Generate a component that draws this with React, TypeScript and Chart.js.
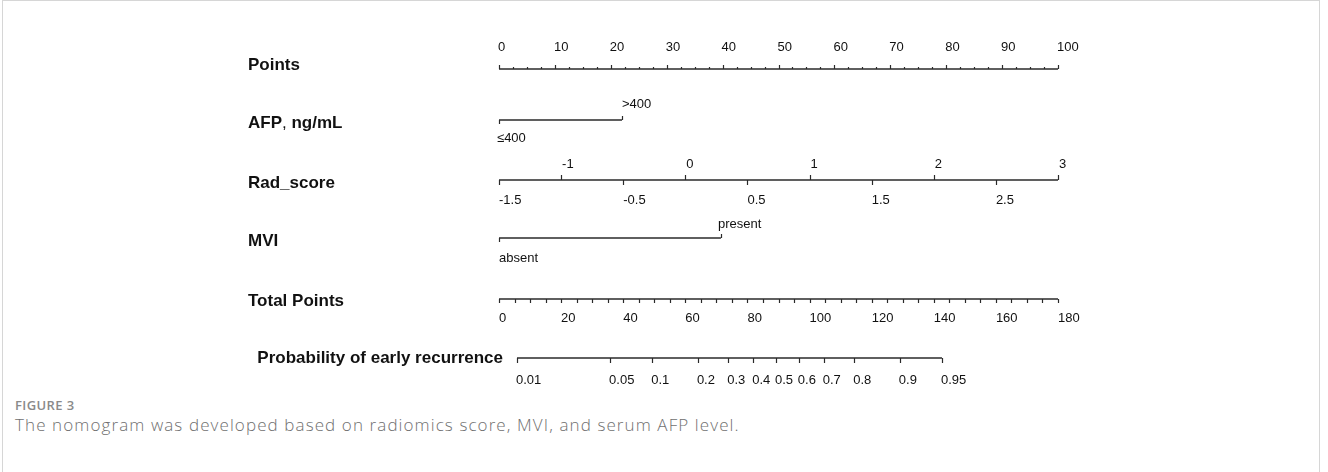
import React, { useEffect, useRef } from 'react';
import { Chart, registerables } from 'chart.js';

Chart.register(...registerables);

// ---------- data ----------
const rowLabels = ['Points', 'AFP, ng/mL', 'Rad_score', 'MVI', 'Total Points', 'Probability of early recurrence'];
const pointsMajorTicks = [0, 10, 20, 30, 40, 50, 60, 70, 80, 90, 100];
const pointsMinorStep = 2.5;
const afpLevels = ['≤400', '>400'];
const afpPoints = [0, 22];
const radRange = [-1.5, 3];
const radTicksAbove = [-1, 0, 1, 2, 3];
const radTicksBelow = [-1.5, -0.5, 0.5, 1.5, 2.5];
const mviLevels = ['absent', 'present'];
const mviPoints = [0, 39.7];
const totalRange = [0, 180];
const totalMajorTicks = [0, 20, 40, 60, 80, 100, 120, 140, 160, 180];
const totalMinorStep = 5;
const probTicks = [0.01, 0.05, 0.1, 0.2, 0.3, 0.4, 0.5, 0.6, 0.7, 0.8, 0.9, 0.95];
const probTickLabels = ['0.01', '0.05', '0.1', '0.2', '0.3', '0.4', '0.5', '0.6', '0.7', '0.8', '0.9', '0.95'];
const lpIntercept = -4.915;
const lpSlope = 0.0551;

// ---------- layout / style ----------
const ROW_POS = [0, 0.882, 1.92, 2.924, 3.979, 5];
const LABEL_X = 248;
const PROB_LABEL_RIGHT = 503;
const AXIS_COLOR = '#2a2a2a';
const TEXT_COLOR = '#111111';
const TICK_FONT = '13px "Liberation Sans", Arial, sans-serif';
const LABEL_FONT = 'bold 17px "Liberation Sans", Arial, sans-serif';
const LABEL_FONT_PLAIN = '17px "Liberation Sans", Arial, sans-serif';

const probToTotal = (p: number) => (Math.log(p / (1 - p)) - lpIntercept) / lpSlope;

const nomogramPlugin = {
  id: 'nomogram',
  afterDatasetsDraw(chart: any) {
    const ctx: CanvasRenderingContext2D = chart.ctx;
    const xP = chart.scales.x;
    const xR = chart.scales.xRad;
    const xT = chart.scales.xTotal;
    const y = chart.scales.y;
    const rowY = (i: number) => y.getPixelForValue(ROW_POS[i]);
    ctx.save();
    ctx.strokeStyle = AXIS_COLOR;
    ctx.lineWidth = 1.2;
    ctx.fillStyle = TEXT_COLOR;
    const tick = (px: number, py: number, len: number) => {
      const sx = Math.round(px) + 0.5;
      ctx.beginPath();
      ctx.moveTo(sx, py);
      ctx.lineTo(sx, py + len);
      ctx.stroke();
    };
    const text = (s: string, px: number, py: number) => {
      ctx.font = TICK_FONT;
      ctx.textAlign = 'left';
      ctx.textBaseline = 'middle';
      ctx.fillText(s, px, py);
    };

    // Points axis
    let r = rowY(0);
    for (let v = 0; v <= 100 + 1e-9; v += pointsMinorStep) {
      const major = pointsMajorTicks.includes(v);
      tick(xP.getPixelForValue(v), r, major ? -4 : -2);
    }
    pointsMajorTicks.forEach((v) => text(String(v), xP.getPixelForValue(v) - 1, r - 22));

    // AFP
    r = rowY(1);
    tick(xP.getPixelForValue(afpPoints[0]), r, 4);
    tick(xP.getPixelForValue(afpPoints[1]), r, -4);
    text(afpLevels[0], xP.getPixelForValue(afpPoints[0]) - 2, r + 18);
    text(afpLevels[1], xP.getPixelForValue(afpPoints[1]), r - 16);

    // Rad_score
    r = rowY(2);
    radTicksAbove.forEach((v) => {
      tick(xR.getPixelForValue(v), r, -5);
      text(String(v), xR.getPixelForValue(v) + 1, r - 16);
    });
    radTicksBelow.forEach((v) => {
      tick(xR.getPixelForValue(v), r, 5);
      text(String(v), xR.getPixelForValue(v), r + 20);
    });

    // MVI
    r = rowY(3);
    tick(xP.getPixelForValue(mviPoints[0]), r, 4);
    tick(xP.getPixelForValue(mviPoints[1]), r, -4);
    text(mviLevels[0], xP.getPixelForValue(mviPoints[0]), r + 20);
    text(mviLevels[1], xP.getPixelForValue(mviPoints[1]) - 3, r - 14);

    // Total points
    r = rowY(4);
    for (let v = totalRange[0]; v <= totalRange[1] + 1e-9; v += totalMinorStep) {
      tick(xT.getPixelForValue(v), r, 4);
    }
    totalMajorTicks.forEach((v) => text(String(v), xT.getPixelForValue(v), r + 19));

    // Probability
    r = rowY(5);
    probTicks.forEach((p, i) => {
      const px = xT.getPixelForValue(probToTotal(p));
      tick(px, r, 5);
      text(probTickLabels[i], px - 1, r + 22);
    });

    // Row labels
    ctx.font = LABEL_FONT;
    ctx.textBaseline = 'middle';
    const labelOffsets = [-4, 3, 3, 3, 2, 0];
    rowLabels.forEach((lab, i) => {
      const py = rowY(i) + labelOffsets[i];
      if (i === rowLabels.length - 1) {
        ctx.textAlign = 'right';
        ctx.fillText(lab, PROB_LABEL_RIGHT, py);
      } else if (lab.includes(',')) {
        const [a, b] = lab.split(',');
        ctx.textAlign = 'left';
        ctx.font = LABEL_FONT;
        ctx.fillText(a, LABEL_X, py);
        let x = LABEL_X + ctx.measureText(a).width;
        ctx.font = LABEL_FONT_PLAIN;
        ctx.fillText(',', x, py);
        x += ctx.measureText(', ').width;
        ctx.font = LABEL_FONT;
        ctx.fillText(b.trim(), x, py);
      } else {
        ctx.textAlign = 'left';
        ctx.fillText(lab, LABEL_X, py);
      }
    });
    ctx.restore();
  },
};

export default function App() {
  const canvasRef = useRef<HTMLCanvasElement | null>(null);

  useEffect(() => {
    if (!canvasRef.current) return;
    const seg = (x0: number, x1: number, row: number) => [
      { x: x0, y: ROW_POS[row] },
      { x: x1, y: ROW_POS[row] },
    ];
    const lineStyle = {
      showLine: true,
      borderColor: AXIS_COLOR,
      borderWidth: 1.5,
      pointRadius: 0,
      pointHoverRadius: 0,
      clip: false as any,
      fill: false,
    };
    const probTotals = probTicks.map(probToTotal);
    const chart = new Chart(canvasRef.current, {
      type: 'scatter',
      data: {
        datasets: [
          { ...lineStyle, data: seg(0, 100, 0), xAxisID: 'x' },
          { ...lineStyle, data: seg(afpPoints[0], afpPoints[1], 1), xAxisID: 'x' },
          { ...lineStyle, data: seg(radRange[0], radRange[1], 2), xAxisID: 'xRad' },
          { ...lineStyle, data: seg(mviPoints[0], mviPoints[1], 3), xAxisID: 'x' },
          { ...lineStyle, data: seg(totalRange[0], totalRange[1], 4), xAxisID: 'xTotal' },
          { ...lineStyle, data: seg(probTotals[0], probTotals[probTotals.length - 1], 5), xAxisID: 'xTotal' },
        ],
      },
      options: {
        responsive: false,
        animation: false,
        events: [],
        layout: { padding: { left: 499, right: 270, top: 69, bottom: 37 } },
        plugins: { legend: { display: false }, tooltip: { enabled: false } },
        scales: {
          x: { type: 'linear', min: 0, max: 100, display: false },
          xRad: { type: 'linear', min: radRange[0], max: radRange[1], display: false },
          xTotal: { type: 'linear', min: totalRange[0], max: totalRange[1], display: false },
          y: { type: 'linear', min: 0, max: 5, reverse: true, display: false },
        },
      },
      plugins: [nomogramPlugin],
    });
    return () => chart.destroy();
  }, []);

  return (
    <div style={{ position: 'absolute', left: 0, top: 0, width: 1328, height: 472, background: '#fff', overflow: 'hidden' }}>
      <div
        style={{
          position: 'absolute',
          left: 2,
          top: 0,
          width: 1318,
          height: 600,
          border: '1px solid #d6d6d6',
          boxSizing: 'border-box',
        }}
      />
      <canvas ref={canvasRef} width={1328} height={395} style={{ position: 'absolute', left: 0, top: 0 }} />
      <div
        style={{
          position: 'absolute',
          left: 15,
          top: 396,
          fontFamily: '"Open Sans", sans-serif',
          fontSize: 13,
          fontWeight: 600,
          color: '#8a8a8a',
          letterSpacing: 0.4,
        }}
      >
        FIGURE 3
      </div>
      <div
        style={{
          position: 'absolute',
          left: 15,
          top: 413,
          fontFamily: '"Open Sans", sans-serif',
          fontSize: 17,
          fontWeight: 300,
          color: '#6f6f6f',
          letterSpacing: 1.1,
          whiteSpace: 'nowrap',
        }}
      >
        The nomogram was developed based on radiomics score, MVI, and serum AFP level.
      </div>
    </div>
  );
}
